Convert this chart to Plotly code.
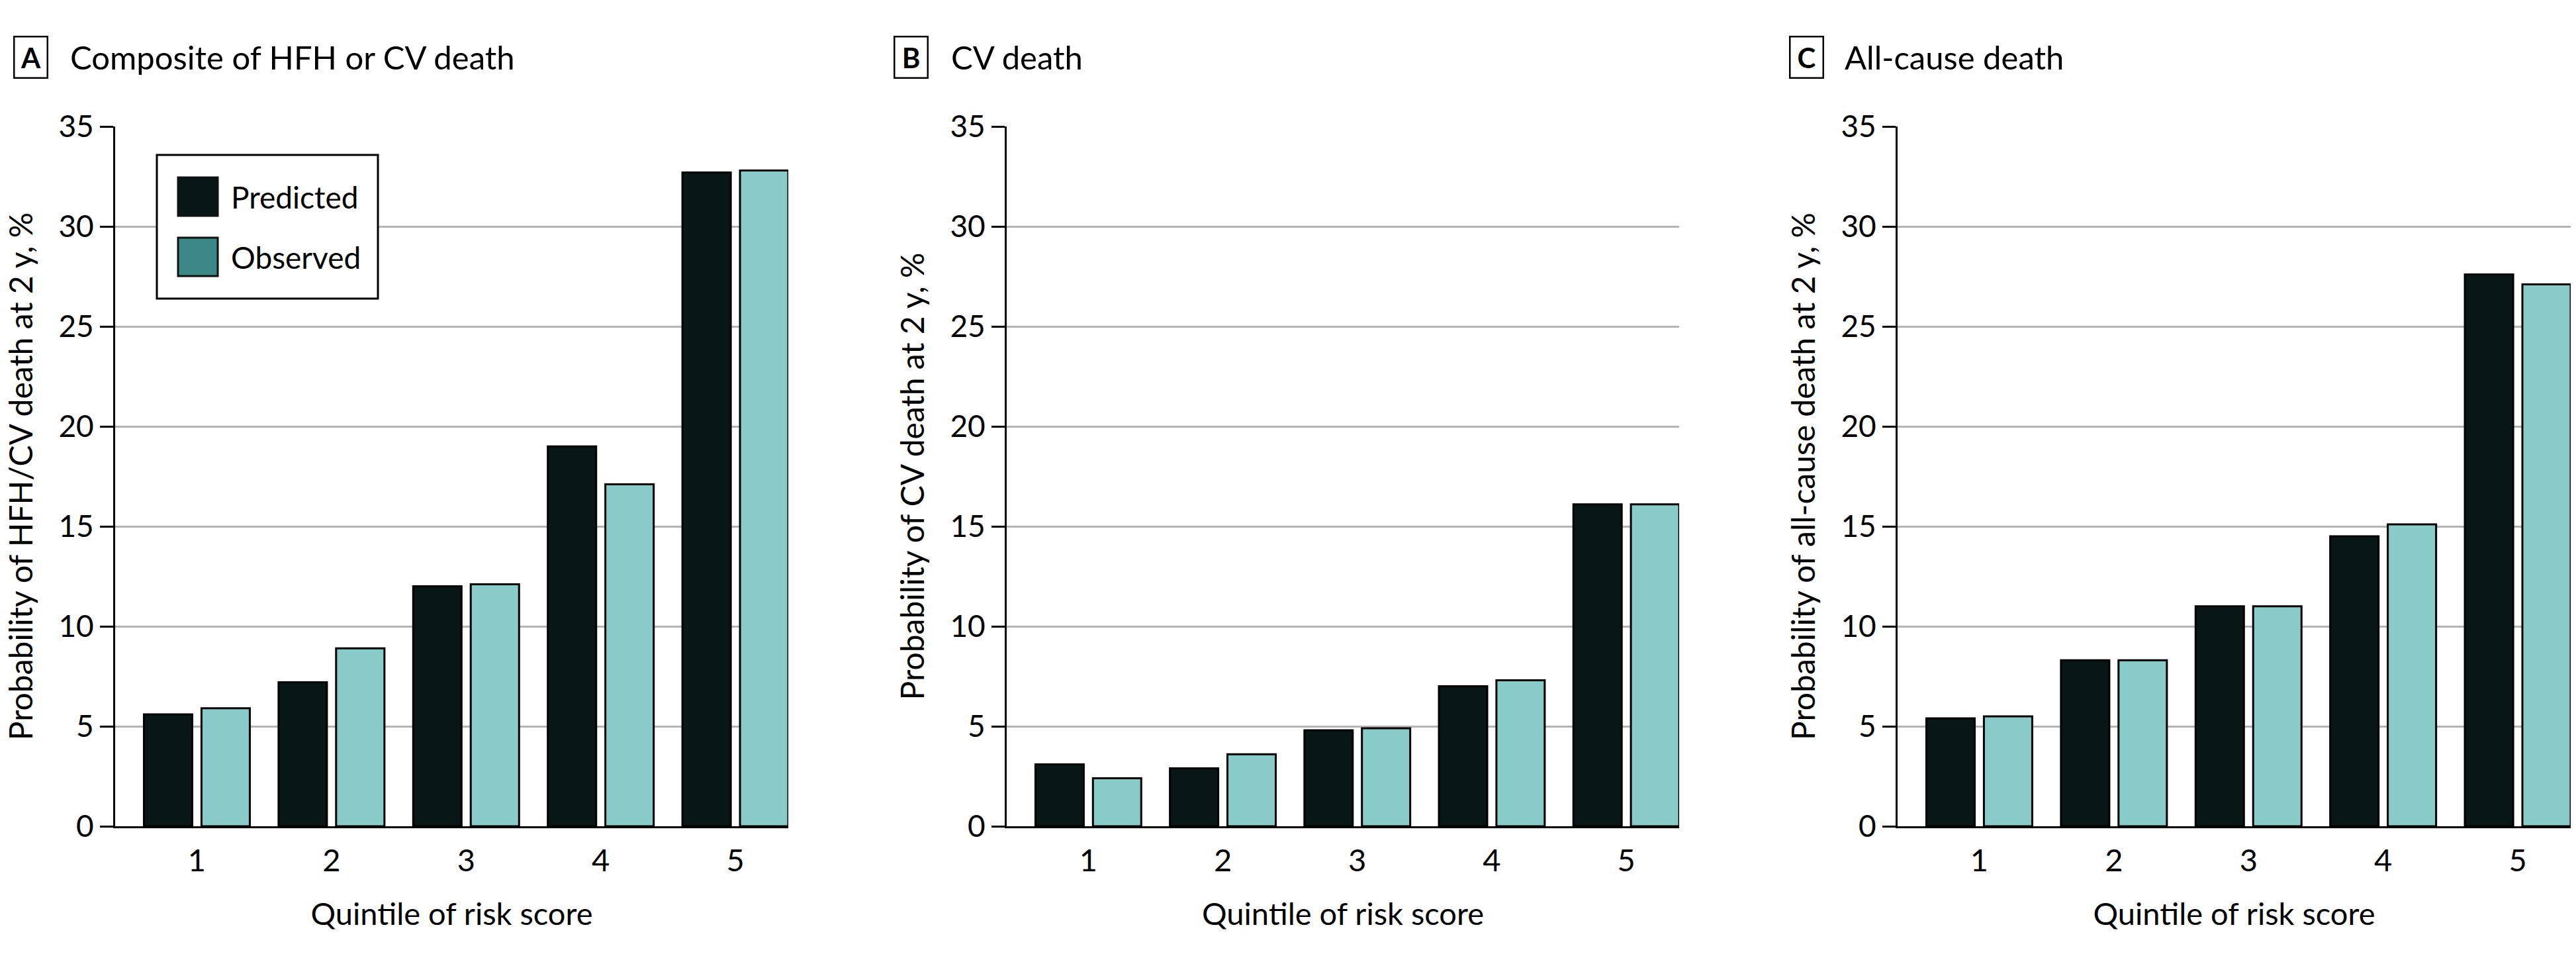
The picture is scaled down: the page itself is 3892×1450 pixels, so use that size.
import plotly.graph_objects as go

W, H = 3892, 1450

quintiles = [1, 2, 3, 4, 5]
tick_labels = ["1", "2", "3", "4", "5"]

panel_letters = ["A", "B", "C"]
panel_titles = ["Composite of HFH or CV death", "CV death", "All-cause death"]
y_titles = ["Probability of HFH/CV death at 2 y, %",
            "Probability of CV death at 2 y, %",
            "Probability of all-cause death at 2 y, %"]
x_title = "Quintile of risk score"

hfh_predicted = [5.6, 7.2, 12.0, 19.0, 32.7]
hfh_observed = [5.9, 8.9, 12.1, 17.1, 32.8]
cv_predicted = [3.1, 2.9, 4.8, 7.0, 16.1]
cv_observed = [2.4, 3.6, 4.9, 7.3, 16.1]
all_predicted = [5.4, 8.3, 11.0, 14.5, 27.6]
all_observed = [5.5, 8.3, 11.0, 15.1, 27.1]

y_ticks = [0, 5, 10, 15, 20, 25, 30, 35]

series_names = ["Predicted", "Observed"]
PRED_COLOR = "#081716"
OBS_COLOR = "#88CBC8"
OBS_LEGEND_COLOR = "#3B8886"
GRID = "#b4b4b4"
FONT = "Lato"

predicted = [hfh_predicted, cv_predicted, all_predicted]
observed = [hfh_observed, cv_observed, all_observed]

# panel pixel geometry
x_px = [(174, 1191), (1521, 2537), (2867, 3884)]
y_top, y_bot = 191, 1248


def px(x):
    return x / W


def py(y):
    return 1 - y / H


fig = go.Figure()
for i in range(3):
    xa = "x" if i == 0 else f"x{i+1}"
    ya = "y" if i == 0 else f"y{i+1}"
    fig.add_trace(go.Bar(x=quintiles, y=predicted[i], name=series_names[0],
                         marker=dict(color=PRED_COLOR, line=dict(color="black", width=3)),
                         xaxis=xa, yaxis=ya, showlegend=False, offsetgroup="p"))
    fig.add_trace(go.Bar(x=quintiles, y=observed[i], name=series_names[1],
                         marker=dict(color=OBS_COLOR, line=dict(color="black", width=3)),
                         xaxis=xa, yaxis=ya, showlegend=False, offsetgroup="o"))

layout = dict(width=W, height=H, margin=dict(l=0, r=0, t=0, b=0, pad=0, autoexpand=False),
              paper_bgcolor="white", plot_bgcolor="white",
              barmode="group", bargap=0.145, bargroupgap=0.16,
              font=dict(family=FONT, color="black", size=46),
              showlegend=False)

annotations = []
shapes = []
for i in range(3):
    xk = "xaxis" if i == 0 else f"xaxis{i+1}"
    yk = "yaxis" if i == 0 else f"yaxis{i+1}"
    xanchor = "y" if i == 0 else f"y{i+1}"
    yanchor = "x" if i == 0 else f"x{i+1}"
    x0, x1 = x_px[i]
    layout[xk] = dict(domain=[px(x0), px(x1)], anchor=xanchor, range=[0.393, 5.393],
                      tickvals=quintiles, ticktext=tick_labels, showgrid=False,
                      zeroline=False, showline=True, linecolor="black", linewidth=3,
                      ticks="", ticklabelstandoff=9, automargin=False,
                      tickfont=dict(size=47, family=FONT),
                      title=dict(text=x_title, font=dict(size=47, family=FONT), standoff=39))
    layout[yk] = dict(domain=[py(y_bot), py(y_top)], anchor=yanchor, range=[0, 35],
                      tickvals=y_ticks, showgrid=True, gridcolor=GRID, gridwidth=3,
                      zeroline=False, showline=True, linecolor="black", linewidth=3,
                      ticks="outside", ticklen=20, tickwidth=3, tickcolor="black",
                      automargin=False,
                      tickfont=dict(size=46, family=FONT),
                      title=dict(text=y_titles[i], font=dict(size=48, family=FONT), standoff=24))

    # panel letter box and title
    bx = [20, 1350, 2703][i]
    tx = [104, 1435, 2785][i]
    annotations.append(dict(text=f"<b>{panel_letters[i]}</b>", xref="paper", yref="paper",
                            x=px(bx), y=py(86), xanchor="left", yanchor="middle",
                            showarrow=False, font=dict(size=42, family=FONT),
                            bordercolor="black", borderwidth=2.5, borderpad=0,
                            width=48, height=60, bgcolor="white"))
    annotations.append(dict(text=panel_titles[i], xref="paper", yref="paper",
                            x=px(tx), y=py(86), xanchor="left", yanchor="middle",
                            showarrow=False, font=dict(size=49, family=FONT)))

# custom legend (panel A)
shapes.append(dict(type="rect", xref="paper", yref="paper",
                   x0=px(237), x1=px(571), y0=py(451), y1=py(234),
                   fillcolor="white", line=dict(color="black", width=3), layer="above"))
for j, (col, yc) in enumerate([(PRED_COLOR, 297), (OBS_LEGEND_COLOR, 388)]):
    shapes.append(dict(type="rect", xref="paper", yref="paper",
                       x0=px(269), x1=px(329), y0=py(yc + 29), y1=py(yc - 29),
                       fillcolor=col, line=dict(color="#111", width=3), layer="above"))
    annotations.append(dict(text=series_names[j], xref="paper", yref="paper",
                            x=px(347), y=py(yc), xanchor="left", yanchor="middle",
                            showarrow=False, font=dict(size=46, family=FONT)))

layout["annotations"] = annotations
layout["shapes"] = shapes
fig.update_layout(**layout)
fig.write_html("out.html", config={"displayModeBar": False, "staticPlot": True},
               post_script="document.body.style.margin='0px';document.body.style.overflow='hidden';")
